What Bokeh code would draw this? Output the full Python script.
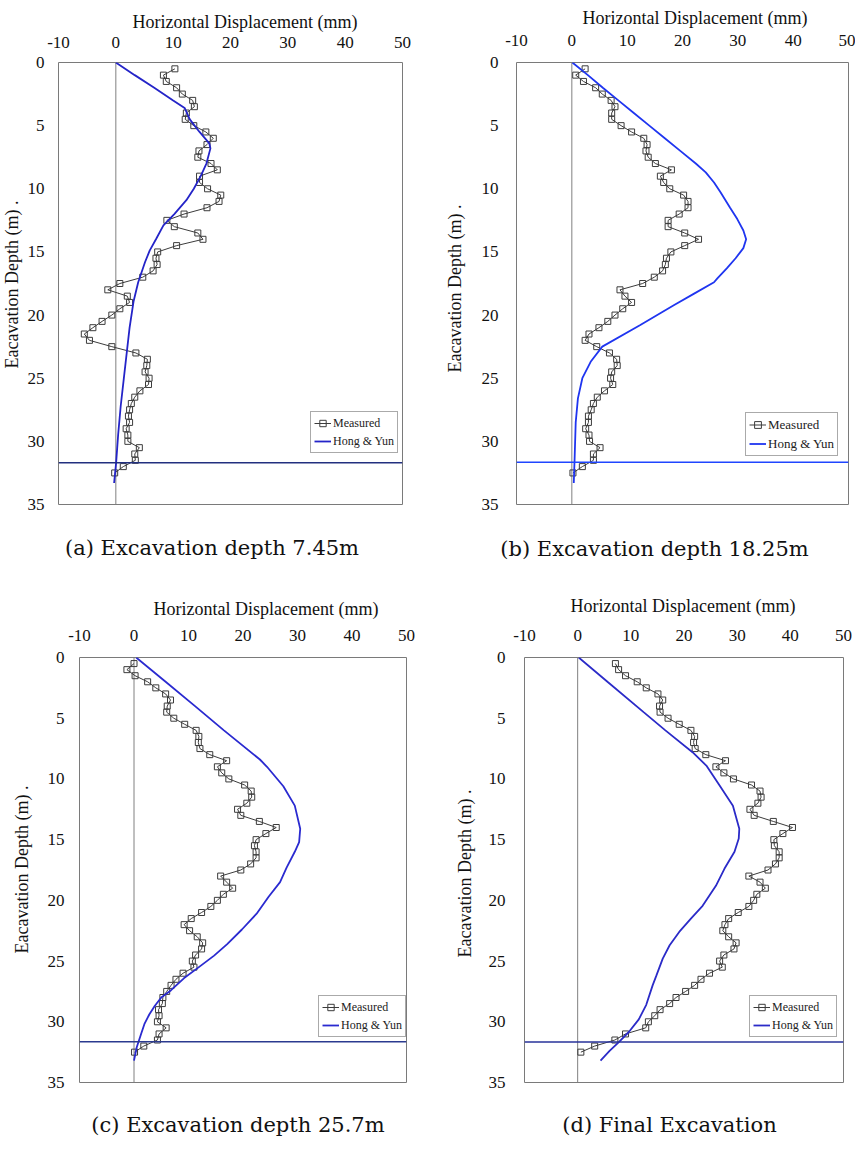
from bokeh.plotting import figure
from bokeh.models import (Range1d, FixedTicker, Span, Title, Legend, LegendItem,
                          ColumnDataSource, Div)
from bokeh.layouts import row, column
from bokeh.embed import file_html
from bokeh.resources import INLINE

# ---------------- data ----------------
X_TICKS = [-10, 0, 10, 20, 30, 40, 50]
Y_TICKS = [0, 5, 10, 15, 20, 25, 30, 35]
X_AXIS_TITLE = "Horizontal Displacement (mm)"
Y_AXIS_TITLE = "Eacavation Depth (m) ."
SERIES_NAMES = ["Measured", "Hong & Yun"]
CAPTIONS = ["(a) Excavation depth 7.45m", "(b) Excavation depth 18.25m",
            "(c) Excavation depth 25.7m", "(d) Final Excavation"]

DEPTH_MEASURED = [0.5, 1.0, 1.5, 2.0, 2.5, 3.0, 3.5, 4.0, 4.5, 5.0,
                  5.5, 6.0, 6.5, 7.0, 7.5, 8.0, 8.5, 9.0, 9.5, 10.0,
                  10.5, 11.0, 11.5, 12.0, 12.5, 13.0, 13.5, 14.0, 14.5, 15.0,
                  15.5, 16.0, 16.5, 17.0, 17.5, 18.0, 18.5, 19.0, 19.5, 20.0,
                  20.5, 21.0, 21.5, 22.0, 22.5, 23.0, 23.5, 24.0, 24.5, 25.0,
                  25.5, 26.0, 26.5, 27.0, 27.5, 28.0, 28.5, 29.0, 29.5, 30.0,
                  30.5, 31.0, 31.5, 32.0, 32.5]

MEASURED_A = [10.3, 8.3, 8.8, 10.6, 11.6, 13.4, 13.7, 12.3, 12.1, 13.6,
              15.7, 17.0, 15.9, 14.5, 14.3, 16.6, 17.7, 14.6, 14.6, 16.0,
              18.3, 18.0, 15.9, 11.9, 8.9, 10.2, 14.3, 15.2, 10.6, 7.3,
              7.0, 7.2, 6.5, 4.7, 0.7, -1.4, 2.0, 2.4, 0.7, -0.7,
              -2.4, -4.0, -5.5, -4.6, -0.7, 3.5, 5.5, 5.4, 5.1, 5.8,
              5.7, 4.2, 3.3, 2.7, 2.4, 2.2, 2.4, 1.8, 2.1, 2.1,
              4.1, 3.3, 3.4, 1.3, -0.2]
MEASURED_B = [2.4, 0.7, 2.1, 4.3, 5.5, 7.1, 7.8, 7.2, 7.2, 8.9,
              10.8, 13.0, 13.6, 13.4, 13.8, 15.1, 18.0, 16.0, 16.6, 17.7,
              20.2, 21.0, 21.0, 19.4, 17.4, 17.4, 20.4, 22.9, 20.4, 17.9,
              17.1, 16.9, 16.4, 14.9, 12.8, 8.7, 9.6, 10.8, 9.2, 7.8,
              6.5, 4.9, 3.1, 2.4, 4.5, 6.8, 8.1, 8.2, 7.2, 7.0,
              7.4, 5.9, 4.6, 3.9, 3.5, 3.0, 3.0, 2.5, 3.1, 3.2,
              5.1, 3.9, 3.9, 1.9, 0.2]
MEASURED_C = [0.0, -1.3, 0.2, 2.5, 4.0, 5.8, 6.7, 6.1, 6.0, 7.3,
              9.3, 11.4, 11.9, 11.8, 12.1, 13.9, 17.0, 15.3, 16.1, 17.4,
              20.3, 21.5, 21.6, 20.7, 19.0, 19.6, 23.0, 26.1, 24.2, 22.4,
              22.1, 22.4, 22.4, 21.4, 19.6, 15.9, 17.0, 18.1, 16.4, 15.3,
              14.1, 12.4, 10.5, 9.2, 10.2, 11.6, 12.6, 12.4, 11.3, 10.7,
              11.0, 9.0, 7.7, 6.8, 6.0, 5.3, 5.2, 4.5, 4.6, 4.3,
              5.9, 4.6, 4.3, 1.8, 0.1]
MEASURED_D = [7.1, 7.7, 9.0, 11.2, 12.9, 15.1, 16.0, 15.4, 15.5, 17.0,
              19.1, 21.3, 22.0, 21.8, 22.1, 24.1, 27.8, 26.0, 27.5, 29.3,
              32.7, 34.3, 34.5, 33.9, 32.4, 33.2, 36.8, 40.4, 38.6, 36.9,
              37.0, 37.9, 37.9, 37.2, 35.8, 32.2, 34.3, 35.3, 33.7, 33.1,
              32.2, 30.2, 28.4, 27.7, 27.3, 28.4, 29.8, 29.4, 27.5, 26.7,
              27.2, 24.8, 23.2, 22.0, 20.3, 18.5, 17.3, 15.5, 14.5, 13.3,
              12.8, 9.0, 7.0, 3.2, 0.6]

PRED_A_DEPTH = [0, 1, 2, 3, 3.6, 4.5, 5.5, 6.4, 6.8, 8.0, 9.0, 10.0, 10.9, 12.0,
                12.9, 14.0, 14.9, 15.8, 17.4, 18.9, 21.0, 23.0, 25.0, 27.2, 29.5,
                31.7, 33.3]
PRED_A_VALUE = [0, 3.3, 6.7, 10.0, 12.0, 12.9, 14.6, 16.3, 16.5, 15.8, 14.8, 13.6,
                12.3, 10.2, 8.3, 7.0, 5.9, 5.1, 3.9, 3.1, 2.4, 1.9, 1.4, 0.85, 0.4,
                0.05, -0.3]
PRED_B_DEPTH = [0, 1, 2, 3, 4, 5, 6, 7, 8, 8.7, 9.5, 10.3, 11.5, 12.4, 13.3, 14.0,
                14.7, 15.5, 16.3, 17.1, 17.4, 18.3, 19.2, 20.8, 22.5, 23.7, 25.0,
                26.6, 28.5, 31.4, 33.3]
PRED_B_VALUE = [0.1, 2.9, 5.6, 8.4, 11.2, 14.0, 16.8, 19.6, 22.4, 24.2, 25.7, 26.9,
                28.6, 29.9, 31.0, 31.5, 31.0, 29.6, 28.0, 26.3, 25.7, 22.1, 18.5,
                12.3, 5.5, 3.4, 1.9, 1.1, 0.7, 0.5, 0.35]
PRED_C_DEPTH = [0, 2, 4, 6, 8.4, 9.0, 10.6, 12.2, 14.1, 15.2, 16.0, 17.3, 18.5,
                19.7, 21.1, 22.4, 23.6, 24.55, 25.6, 26.4, 27.4, 28.0, 28.7, 29.4,
                30.2, 31.0, 32.1, 33.2]
PRED_C_VALUE = [0.4, 5.8, 11.2, 16.5, 23.1, 24.4, 27.4, 29.5, 30.5, 30.3, 29.5,
                28.0, 26.8, 24.7, 22.5, 19.8, 17.1, 14.7, 11.6, 9.2, 6.8, 5.0, 3.8,
                2.8, 1.9, 1.3, 0.5, 0.0]
PRED_D_DEPTH = [0, 2, 4.5, 6, 7.8, 8.9, 10.55, 12.2, 14.1, 14.9, 16.0, 17.4, 18.8,
                20.45, 21.5, 22.6, 23.7, 24.8, 26.2, 27.0, 28.6, 29.8, 30.8, 31.7,
                32.4, 33.2]
PRED_D_VALUE = [0.2, 5.6, 12.4, 16.5, 21.6, 24.2, 26.7, 29.2, 30.4, 30.3, 29.5,
                27.6, 26.0, 23.5, 21.3, 19.1, 17.3, 16.0, 14.8, 14.1, 12.9, 11.5,
                9.7, 7.7, 6.0, 4.3]

WALL_TOE_DEPTH = [31.7, 31.65, 31.65, 31.66]
ZERO_DISPLACEMENT = 0

X_MIN, X_MAX = -10, 50
Y_TOP, Y_BOTTOM = 0, 35

# ---------------- layout / style ----------------
# canvas = (page_x, page_y, width, height); frame = (left, top, right, bottom) in page px
PANELS = [
    dict(measured=MEASURED_A, pd=PRED_A_DEPTH, pv=PRED_A_VALUE, toe=WALL_TOE_DEPTH[0],
         canvas=(8, 8, 430, 517), frame=(65, 64, 410, 513),
         xstand=15, xt_off=74, xt_s=0, ystand=14, yt_off=136, yt_s=2,
         leg=(252, 51), leg_font=12, pred_color="#2424c8", toe_color="#22307f"),
    dict(measured=MEASURED_B, pd=PRED_B_DEPTH, pv=PRED_B_VALUE, toe=WALL_TOE_DEPTH[1],
         canvas=(438, 8, 425, 517), frame=(524, 70, 856, 512),
         xstand=17, xt_off=66, xt_s=4, ystand=18, yt_off=132, yt_s=23,
         leg=(229, 48), leg_font=13, pred_color="#1f35f0", toe_color="#1f45ff"),
    dict(measured=MEASURED_C, pd=PRED_C_DEPTH, pv=PRED_C_VALUE, toe=WALL_TOE_DEPTH[2],
         canvas=(8, 585, 430, 525), frame=(84, 662, 414, 1096),
         xstand=17, xt_off=74, xt_s=12, ystand=15, yt_off=129, yt_s=22,
         leg=(239, 45), leg_font=12, pred_color="#2a2ad0", toe_color="#2b3a8f"),
    dict(measured=MEASURED_D, pd=PRED_D_DEPTH, pv=PRED_D_VALUE, toe=WALL_TOE_DEPTH[3],
         canvas=(438, 585, 425, 525), frame=(532, 665, 851, 1090),
         xstand=17, xt_off=46, xt_s=18, ystand=19, yt_off=125, yt_s=18,
         leg=(225, 45), leg_font=12, pred_color="#2b2bc8", toe_color="#27329a"),
]
# caption boxes: (width, height, horizontal shift, vertical shift)
CAPTION_BOXES = [(430, 60, -3, 1), (425, 60, 12, 2), (430, 35, 23, 6), (425, 35, 27, 6)]

SERIF = "Liberation Serif"
TEXT = "#111111"


def make_panel(spec):
    cx, cy, cw, ch = spec["canvas"]
    fl, ft, fr, fb = spec["frame"]
    p = figure(width=cw, height=ch, x_range=Range1d(X_MIN, X_MAX),
               y_range=Range1d(Y_BOTTOM, Y_TOP), x_axis_location="above",
               output_backend="svg", toolbar_location=None, title_location=None,
               min_border_left=fl - cx, min_border_right=cx + cw - fr,
               min_border_top=ft - cy, min_border_bottom=cy + ch - fb)
    p.grid.visible = False
    p.outline_line_color = "#7a7a7a"
    p.outline_line_width = 1
    p.background_fill_color = "white"
    p.border_fill_color = "white"

    p.xaxis.ticker = FixedTicker(ticks=X_TICKS)
    p.yaxis.ticker = FixedTicker(ticks=Y_TICKS)
    p.xaxis.major_label_overrides = {t: str(t) for t in X_TICKS}
    for ax in (p.xaxis[0], p.yaxis[0]):
        ax.axis_line_color = None
        ax.major_tick_line_color = None
        ax.minor_tick_line_color = None
        ax.major_tick_out = 0
        ax.major_tick_in = 0
        ax.major_label_text_font = SERIF
        ax.major_label_text_font_size = "17px"
        ax.major_label_text_color = TEXT
    p.xaxis.major_label_standoff = spec["xstand"]
    p.yaxis.major_label_standoff = spec["ystand"]

    p.add_layout(Span(location=ZERO_DISPLACEMENT, dimension="height",
                      line_color="#808080", line_width=1, level="underlay"))

    src = ColumnDataSource(dict(x=spec["measured"], y=DEPTH_MEASURED))
    r_line = p.line("x", "y", source=src, line_color="#3c3c3c", line_width=1)
    r_pts = p.scatter("x", "y", source=src, marker="square", size=6,
                      line_color="#3c3c3c", line_width=1, fill_color=None)
    r_pred = p.line(spec["pv"], spec["pd"], line_color=spec["pred_color"],
                    line_width=1.8)

    p.add_layout(Span(location=spec["toe"], dimension="width",
                      line_color=spec["toe_color"], line_width=1.5))

    fs = spec["leg_font"]
    leg = Legend(items=[LegendItem(label=SERIES_NAMES[0], renderers=[r_line, r_pts]),
                        LegendItem(label=SERIES_NAMES[1], renderers=[r_pred])],
                 location=spec["leg"], orientation="vertical",
                 label_text_font=SERIF, label_text_font_size=f"{fs}px",
                 label_text_color="#222222",
                 glyph_width=17, glyph_height=fs + 4, label_height=fs + 4,
                 label_standoff=2, padding=3, spacing=2, margin=0,
                 border_line_color="#555555", border_line_width=1,
                 background_fill_color="white", background_fill_alpha=1.0)
    p.add_layout(leg)

    p.add_layout(Title(text=X_AXIS_TITLE, align="left", offset=spec["xt_off"],
                       standoff=spec["xt_s"], vertical_align="top",
                       text_font=SERIF, text_font_size="18px",
                       text_font_style="normal", text_color=TEXT), "above")
    p.add_layout(Title(text=Y_AXIS_TITLE, align="left", offset=spec["yt_off"],
                       standoff=spec["yt_s"], vertical_align="top",
                       text_font=SERIF, text_font_size="18px",
                       text_font_style="normal", text_color=TEXT), "left")
    return p


def make_caption(text, box):
    w, h, dx, dy = box
    html = (f'<span style="position:relative; left:{dx}px; top:{dy}px; '
            f'white-space:nowrap">{text}</span>')
    return Div(text=html, width=w, height=h, margin=0,
               styles={"font-family": "DejaVu Serif", "font-size": "21px",
                       "color": TEXT, "text-align": "center",
                       "line-height": f"{h}px"})


figs = [make_panel(s) for s in PANELS]
caps = [make_caption(t, b) for t, b in zip(CAPTIONS, CAPTION_BOXES)]
layout = column(row(figs[0], figs[1]), row(caps[0], caps[1]),
                row(figs[2], figs[3]), row(caps[2], caps[3]))

with open("out.html", "w") as f:
    f.write(file_html(layout, INLINE))
